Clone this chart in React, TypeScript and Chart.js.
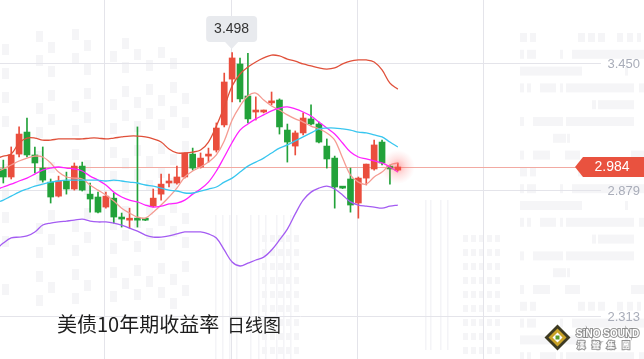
import React, { useEffect, useRef } from "react";
import { Chart, registerables } from "chart.js";

Chart.register(...registerables);

// ---- data ----
const opens = [2.975, 2.939, 3.042, 3.141, 3.038, 2.979, 2.916, 2.853, 2.921, 2.885, 2.988, 2.862, 2.849, 2.804, 2.844, 2.759, 2.745, 2.754, 2.750, 2.808, 2.862, 2.912, 2.912, 2.939, 3.042, 2.984, 3.033, 3.060, 3.173, 3.379, 3.447, 3.303, 3.231, 3.231, 3.272, 3.285, 3.150, 3.078, 3.137, 3.200, 3.177, 3.078, 3.024, 2.894, 2.930, 2.822, 2.934, 2.975, 3.096, 2.988, 2.970];
const highs = [3.015, 3.074, 3.164, 3.204, 3.074, 3.074, 2.930, 2.943, 2.961, 3.002, 3.006, 2.912, 2.871, 2.871, 2.867, 2.777, 2.799, 3.164, 2.752, 2.885, 2.952, 2.952, 2.988, 3.047, 3.069, 3.047, 3.069, 3.182, 3.406, 3.498, 3.474, 3.495, 3.299, 3.240, 3.321, 3.290, 3.177, 3.146, 3.227, 3.263, 3.186, 3.110, 3.033, 2.896, 2.979, 2.939, 2.997, 3.105, 3.105, 2.993, 3.002];
const lows = [2.912, 2.930, 3.029, 3.029, 2.957, 2.916, 2.822, 2.849, 2.862, 2.880, 2.876, 2.781, 2.777, 2.799, 2.732, 2.714, 2.709, 2.714, 2.743, 2.804, 2.835, 2.894, 2.907, 2.934, 2.970, 2.979, 3.006, 3.051, 3.164, 3.276, 3.276, 3.182, 3.195, 3.227, 3.263, 3.132, 3.006, 3.038, 3.128, 3.173, 3.092, 2.979, 2.799, 2.887, 2.781, 2.754, 2.903, 2.970, 2.993, 2.907, 2.966];
const closes = [2.939, 3.038, 3.132, 3.038, 3.002, 2.925, 2.849, 2.921, 2.885, 2.988, 2.880, 2.840, 2.781, 2.853, 2.759, 2.750, 2.754, 2.745, 2.745, 2.844, 2.907, 2.921, 2.939, 3.047, 2.979, 3.024, 3.042, 3.159, 3.366, 3.474, 3.290, 3.200, 3.236, 3.236, 3.276, 3.164, 3.096, 3.137, 3.204, 3.177, 3.096, 3.020, 2.894, 2.889, 2.813, 2.934, 2.997, 3.083, 3.002, 2.975, 2.984];

// indicator lines start one bar before the first visible candle
const upperBand = [3.020, 3.033, 3.042, 3.092, 3.114, 3.114, 3.105, 3.105, 3.110, 3.110, 3.110, 3.110, 3.114, 3.114, 3.110, 3.114, 3.119, 3.123, 3.123, 3.119, 3.110, 3.096, 3.065, 3.047, 3.047, 3.051, 3.060, 3.096, 3.168, 3.254, 3.348, 3.402, 3.433, 3.456, 3.474, 3.487, 3.483, 3.469, 3.460, 3.447, 3.438, 3.429, 3.424, 3.429, 3.447, 3.460, 3.465, 3.465, 3.456, 3.420, 3.361, 3.334];
const ma5 = [2.961, 2.975, 2.993, 3.011, 3.024, 3.033, 3.029, 3.002, 2.961, 2.939, 2.934, 2.930, 2.903, 2.880, 2.858, 2.831, 2.799, 2.777, 2.759, 2.754, 2.781, 2.813, 2.849, 2.889, 2.939, 2.966, 2.984, 3.006, 3.038, 3.101, 3.195, 3.258, 3.303, 3.316, 3.285, 3.258, 3.240, 3.218, 3.200, 3.186, 3.168, 3.155, 3.137, 3.105, 3.024, 2.948, 2.916, 2.907, 2.939, 2.961, 2.993, 3.002];
const ma10 = [2.880, 2.894, 2.907, 2.921, 2.934, 2.952, 2.970, 2.979, 2.984, 2.979, 2.975, 2.966, 2.943, 2.925, 2.903, 2.871, 2.849, 2.835, 2.827, 2.813, 2.804, 2.808, 2.818, 2.822, 2.835, 2.862, 2.885, 2.916, 2.966, 3.029, 3.094, 3.150, 3.177, 3.200, 3.218, 3.236, 3.249, 3.254, 3.245, 3.231, 3.213, 3.186, 3.159, 3.132, 3.092, 3.051, 3.029, 3.020, 3.011, 3.002, 2.984, 2.961];
const midBand = [2.822, 2.835, 2.853, 2.871, 2.885, 2.898, 2.907, 2.916, 2.921, 2.925, 2.925, 2.925, 2.925, 2.925, 2.921, 2.925, 2.921, 2.916, 2.912, 2.903, 2.898, 2.889, 2.880, 2.876, 2.867, 2.867, 2.876, 2.885, 2.894, 2.916, 2.934, 2.961, 2.988, 3.006, 3.024, 3.047, 3.069, 3.083, 3.101, 3.119, 3.137, 3.155, 3.159, 3.159, 3.155, 3.150, 3.141, 3.137, 3.128, 3.119, 3.096, 3.074];
const lowerBand = [2.611, 2.642, 2.665, 2.669, 2.674, 2.692, 2.723, 2.732, 2.737, 2.741, 2.745, 2.750, 2.741, 2.737, 2.737, 2.732, 2.723, 2.709, 2.696, 2.678, 2.669, 2.669, 2.674, 2.683, 2.692, 2.692, 2.692, 2.683, 2.665, 2.611, 2.557, 2.539, 2.552, 2.566, 2.579, 2.611, 2.656, 2.705, 2.773, 2.835, 2.871, 2.889, 2.898, 2.885, 2.858, 2.827, 2.813, 2.808, 2.804, 2.799, 2.808, 2.813];

const yTickValues = [3.45, 2.879, 2.313];
const yTickLabels = ["3.450", "2.879", "2.313"];
const xGridIndex = [13, 29, 45, 61];
const lastPrice = 2.984;
const lastPriceLabel = "2.984";
const peakIndex = 29;
const peakValue = 3.498;
const peakLabel = "3.498";
const titleMain = "美债10年期收益率";
const titleSub = "日线图";
const logoLine1 = "SiNO SOUND";
const logoLine2 = "漢聲集團";

const UP = "#ea4e3d";
const DOWN = "#22a23a";

const candleX = opens.map((_, i) => i);
const lineX = upperBand.map((_, k) => k - 1);
const candleColors = opens.map((o, i) => (closes[i] >= o ? UP : DOWN));

const NUM_FONT = '"Liberation Sans", Arial, sans-serif';
const CJK_FONT = '"Noto Sans CJK SC", "Noto Sans", sans-serif';

// faint background watermark rows (decoration)
const wmRowPatterns: number[][][] = [
  [[520, 527], [530, 536], [578, 585], [588, 595], [598, 605], [617, 623], [627, 633], [637, 641]],
  [[520, 524], [527, 536], [560, 563], [572, 644]],
  [[520, 582], [625, 628]],
  [[520, 524], [527, 531], [540, 556], [560, 563], [566, 634], [639, 644]],
  [[592, 596], [598, 634]],
  [[520, 524], [533, 563], [566, 634]],
  [[553, 566], [567, 570]],
  [[520, 524], [533, 550], [565, 580], [631, 644]],
];

function drawWatermark(ctx: CanvasRenderingContext2D) {
  ctx.save();
  ctx.fillStyle = "#f5f5f7";
  let r = 0;
  for (let y = 33; y < 359; y += 16.8) {
    const pat = wmRowPatterns[r % wmRowPatterns.length];
    for (const [a, b] of pat) ctx.fillRect(a, y, b - a, 9);
    r++;
  }
  const cols = [2, 36, 48, 72, 84, 110, 122, 134, 146, 158, 170, 182];
  for (let c = 0; c < cols.length; c++) {
    const x = cols[c];
    const skew = c * 3;
    for (let y = 20 + (c % 3) * 8 + skew; y < 300; y += 24) {
      if ((c + Math.round(y)) % 5 === 0) continue;
      ctx.fillRect(x, y, 7, 11);
    }
  }
  ctx.fillStyle = "#f4f4f7";
  const stripes = [215, 222, 229, 236, 250, 258, 265, 276, 283, 290, 425, 430, 440, 447];
  for (const s of stripes) ctx.fillRect(s, s < 400 ? 215 : 200, 1.5, 150);
  ctx.fillStyle = "#f5f5f7";
  for (let y = 235; y < 359; y += 14) {
    for (const x of [262, 270, 278, 286, 294, 463, 471, 479, 487, 495]) ctx.fillRect(x, y, 5, 7);
  }
  ctx.restore();
}

function roundRect(ctx: CanvasRenderingContext2D, x: number, y: number, w: number, h: number, r: number) {
  ctx.beginPath();
  ctx.moveTo(x + r, y);
  ctx.lineTo(x + w - r, y);
  ctx.quadraticCurveTo(x + w, y, x + w, y + r);
  ctx.lineTo(x + w, y + h - r);
  ctx.quadraticCurveTo(x + w, y + h, x + w - r, y + h);
  ctx.lineTo(x + r, y + h);
  ctx.quadraticCurveTo(x, y + h, x, y + h - r);
  ctx.lineTo(x, y + r);
  ctx.quadraticCurveTo(x, y, x + r, y);
  ctx.closePath();
}

const backgroundPlugin = {
  id: "bgDecor",
  beforeDatasetsDraw(chart: any) {
    const { ctx, chartArea, scales } = chart;
    const xs = scales.x;
    const ys = scales.y;
    ctx.save();
    ctx.fillStyle = "#ffffff";
    ctx.fillRect(0, 0, chart.width, chart.height);
    drawWatermark(ctx);
    ctx.strokeStyle = "#e4e4ea";
    ctx.lineWidth = 1;
    for (const gi of xGridIndex) {
      const x = Math.round(xs.getPixelForValue(gi) - 1.5) + 0.5;
      ctx.beginPath();
      ctx.moveTo(x, chartArea.top);
      ctx.lineTo(x, chartArea.bottom);
      ctx.stroke();
    }
    for (const v of yTickValues) {
      const y = Math.round(ys.getPixelForValue(v)) + 0.5;
      ctx.beginPath();
      ctx.moveTo(0, y);
      ctx.lineTo(601, y);
      ctx.stroke();
    }
    const py = Math.round(ys.getPixelForValue(lastPrice)) + 0.5;
    ctx.strokeStyle = "#f2aaa2";
    ctx.beginPath();
    ctx.moveTo(0, py);
    ctx.lineTo(580, py);
    ctx.stroke();
    ctx.restore();
  },
};

const overlayPlugin = {
  id: "overlayDecor",
  afterDatasetsDraw(chart: any) {
    const { ctx, scales } = chart;
    const xs = scales.x;
    const ys = scales.y;
    ctx.save();
    ctx.fillStyle = "#a9adb9";
    ctx.font = `13px ${NUM_FONT}`;
    ctx.textAlign = "right";
    ctx.textBaseline = "middle";
    yTickValues.forEach((v, k) => {
      ctx.fillText(yTickLabels[k], 640, ys.getPixelForValue(v) + 1);
    });

    const lx = xs.getPixelForValue(candleX[candleX.length - 1]);
    const ly = ys.getPixelForValue(lastPrice);
    const g = ctx.createRadialGradient(lx, ly, 0, lx, ly, 17);
    g.addColorStop(0, "rgba(255,70,70,0.45)");
    g.addColorStop(0.5, "rgba(255,110,110,0.2)");
    g.addColorStop(1, "rgba(255,140,140,0)");
    ctx.fillStyle = g;
    ctx.beginPath();
    ctx.arc(lx, ly, 17, 0, Math.PI * 2);
    ctx.fill();

    const ty = ly;
    ctx.fillStyle = "#e9523f";
    ctx.beginPath();
    ctx.moveTo(575, ty);
    ctx.lineTo(583, ty - 10);
    ctx.lineTo(644, ty - 10);
    ctx.lineTo(644, ty + 10);
    ctx.lineTo(583, ty + 10);
    ctx.closePath();
    ctx.fill();
    ctx.fillStyle = "#ffffff";
    ctx.font = `14px ${NUM_FONT}`;
    ctx.textAlign = "center";
    ctx.fillText(lastPriceLabel, 612, ty + 0.5);

    const px = xs.getPixelForValue(peakIndex) - 0.5;
    const tip = ys.getPixelForValue(peakValue) - 3.5;
    ctx.fillStyle = "#e8eaee";
    roundRect(ctx, px - 25.5, tip - 33, 51, 26, 4);
    ctx.fill();
    ctx.beginPath();
    ctx.moveTo(px - 7, tip - 7.5);
    ctx.lineTo(px + 7, tip - 7.5);
    ctx.lineTo(px, tip);
    ctx.closePath();
    ctx.fill();
    ctx.fillStyle = "#333333";
    ctx.font = `14px ${NUM_FONT}`;
    ctx.fillText(peakLabel, px, tip - 19.5);

    ctx.fillStyle = "#1e1e1e";
    ctx.textAlign = "left";
    ctx.textBaseline = "alphabetic";
    ctx.font = `20px ${CJK_FONT}`;
    ctx.fillText(titleMain, 57, 332);
    ctx.font = `18px ${CJK_FONT}`;
    ctx.fillText(titleSub, 227, 332);

    const cx = 557.5, cy = 337.5;
    ctx.fillStyle = "#3d3a22";
    ctx.beginPath();
    ctx.moveTo(cx, cy - 13); ctx.lineTo(cx + 13, cy); ctx.lineTo(cx, cy + 13); ctx.lineTo(cx - 13, cy);
    ctx.closePath(); ctx.fill();
    ctx.fillStyle = "#c9a227";
    ctx.beginPath();
    ctx.moveTo(cx, cy - 9); ctx.lineTo(cx + 9, cy); ctx.lineTo(cx, cy + 9); ctx.lineTo(cx - 9, cy);
    ctx.closePath(); ctx.fill();
    ctx.fillStyle = "#ffffff";
    ctx.beginPath();
    ctx.moveTo(cx, cy - 5); ctx.lineTo(cx + 5, cy); ctx.lineTo(cx, cy + 5); ctx.lineTo(cx - 5, cy);
    ctx.closePath(); ctx.fill();
    ctx.fillStyle = "#5a9a2a";
    ctx.fillRect(cx - 2, cy - 2, 4, 4);

    ctx.font = `bold 10px ${NUM_FONT}`;
    ctx.textAlign = "left";
    ctx.lineWidth = 2;
    ctx.strokeStyle = "rgba(120,120,120,0.8)";
    ctx.strokeText(logoLine1, 576, 337);
    ctx.fillStyle = "#ffffff";
    ctx.fillText(logoLine1, 576, 337);
    ctx.font = `bold 8px ${CJK_FONT}`;
    const chars = Array.from(logoLine2);
    chars.forEach((ch, k) => {
      ctx.strokeText(ch, 577 + k * 15, 348);
      ctx.fillText(ch, 577 + k * 15, 348);
    });
    ctx.restore();
  },
};

function lineDs(label: string, values: number[], color: string) {
  return {
    type: "line" as const,
    label,
    data: lineX.map((x, k) => ({ x, y: values[k] })),
    borderColor: color,
    borderWidth: 1.3,
    pointRadius: 0,
    tension: 0.35,
    fill: false,
    order: 0,
  };
}

export default function App() {
  const ref = useRef<HTMLCanvasElement | null>(null);
  useEffect(() => {
    if (!ref.current) return;
    const chart = new Chart(ref.current, {
      type: "bar",
      data: {
        datasets: [
          lineDs("upper", upperBand, "#e0503a"),
          lineDs("mid", midBand, "#38c6ef"),
          lineDs("ma10", ma10, "#ff22ff"),
          lineDs("ma5", ma5, "#f59b92"),
          lineDs("lower", lowerBand, "#a45cf2"),
          {
            type: "bar",
            label: "body",
            data: candleX.map((x, i) => ({ x, y: [opens[i], closes[i]] })),
            backgroundColor: candleColors,
            barThickness: 6,
            minBarLength: 2,
            grouped: false,
            order: 1,
          } as any,
          {
            type: "bar",
            label: "wick",
            data: candleX.map((x, i) => ({ x, y: [lows[i], highs[i]] })),
            backgroundColor: candleColors,
            barThickness: 1,
            grouped: false,
            order: 2,
          } as any,
        ],
      },
      options: {
        responsive: false,
        animation: false,
        events: [],
        layout: { padding: 0 },
        plugins: { legend: { display: false }, tooltip: { enabled: false } },
        scales: {
          x: { type: "linear", display: false, min: -0.42, max: 81.2, offset: false },
          y: { type: "linear", display: false, min: 2.121, max: 3.7345 },
        },
      },
      plugins: [backgroundPlugin, overlayPlugin],
    } as any);
    return () => chart.destroy();
  }, []);
  return (
    <div style={{ position: "fixed", left: 0, top: 0, width: 644, height: 359, background: "#fff" }}>
      <canvas ref={ref} width={644} height={359} />
    </div>
  );
}
